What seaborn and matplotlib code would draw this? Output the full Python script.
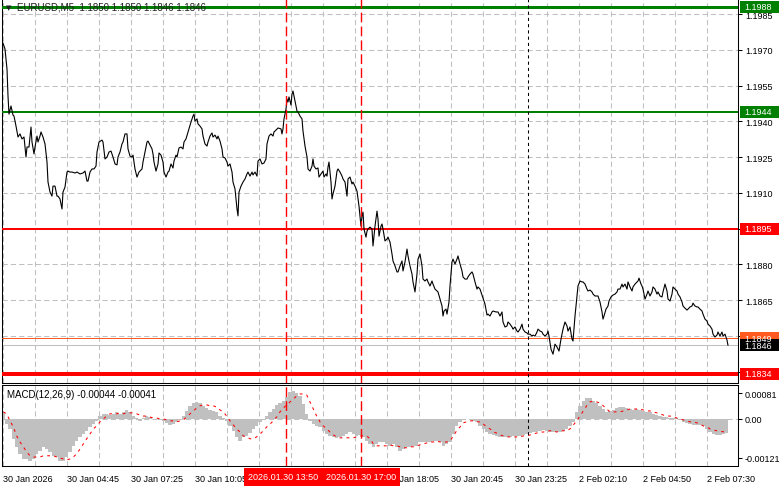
import numpy as np
import matplotlib
matplotlib.use("Agg")
import matplotlib.pyplot as plt
from matplotlib.patches import Rectangle
import seaborn as sns

# ---- values ----
tick_bars = [0, 32, 64, 96, 128, 160, 192, 224, 256, 288, 320, 352]
# the 12:45 and 15:25 labels sit under the red time boxes, so they are not shown
tick_labels = ["30 Jan 2026", "30 Jan 04:45", "30 Jan 07:25", "30 Jan 10:05",
               "", "", "30 Jan 18:05", "30 Jan 20:45",
               "30 Jan 23:25", "2 Feb 02:10", "2 Feb 04:50", "2 Feb 07:30"]
price_ticks = [1.1985, 1.1970, 1.1955, 1.1940, 1.1925, 1.1910, 1.1895,
               1.1880, 1.1865, 1.1850, 1.1835]
macd_ticks = [0.00081, 0.0, -0.00121]
macd_tick_labels = ["0.00081", "0.00", "-0.00121"]

level_prices = [1.1988, 1.1944, 1.1895, 1.1849, 1.1834]
level_colors = ["#008000", "#008000", "#ff0000", "#ff5a1f", "#ff0000"]
level_widths = [3.0, 2.0, 2.0, 1.0, 4.0]   # pixels
bid_price = 1.1846

event_bars = [141.5, 179]
event_labels = ["2026.01.30 13:50", "2026.01.30 17:00"]
marker_bar = 262.5

header = "EURUSD,M5  1.1850 1.1850 1.1846 1.1846"
macd_title = "MACD(12,26,9) -0.00044 -0.00041"

price_bar = [
    0, 1, 2, 2.5, 3, 4, 5, 5.5, 6.5, 7.5,
    8.5, 9.5, 10.5, 11.5, 12, 13, 14, 14.5, 15.5, 16,
    17, 17.5, 18.5, 19, 20, 21, 22, 22.5, 23.5, 24.5,
    25, 26, 27, 27.5, 28.5, 29.5, 30, 31, 32, 32.5,
    33.5, 34.5, 36, 37, 38.5, 40, 41, 42, 42.5, 43.5,
    44.5, 45.5, 46.5, 47, 48, 49.5, 50, 51, 52, 53,
    54, 55, 56, 57, 57.5, 58.5, 59.5, 60, 61, 62,
    62.5, 63.5, 64.5, 65, 66, 67, 68, 69.5, 70, 71,
    72, 72.5, 73.5, 74.5, 75, 75.5, 76.5, 77.5, 78, 79,
    80, 80.5, 81.5, 82.5, 83, 84, 85, 85.5, 86.5, 87,
    88, 89, 90, 90.5, 91.5, 92.5, 93, 94, 95, 95.5,
    96, 97, 97.5, 98.5, 99.5, 100, 101, 102, 102.5, 103.5,
    104.5, 105, 106, 107, 107.5, 108.5, 109.5, 110, 111, 112,
    112.5, 113.5, 114.5, 115, 116, 117, 117.5, 118, 119, 120,
    121, 122, 122.5, 123.5, 124.5, 125, 126, 127, 127.5, 128.5,
    129.5, 130.5, 131.5, 132, 133, 134, 135, 135.5, 136.5, 137.5,
    139, 139.5, 140, 140.5, 141.5, 142, 142.5, 143, 144, 144.5,
    145, 146, 147, 147.5, 148.5, 149.5, 150, 151, 152, 152.5,
    153.5, 154.5, 155, 155.5, 156.5, 157.5, 158, 159, 160, 160.5,
    161.5, 162, 162.5, 163, 164, 164.5, 165, 166, 167, 167.5,
    168.5, 169.5, 170, 171, 172, 172.5, 173.5, 174.5, 175, 176,
    177, 177.5, 178, 179, 179.5, 180, 180.5, 181.5, 182, 182.5,
    183.5, 184.5, 185, 186, 187, 187.5, 188, 189, 189.5, 190,
    191, 192, 192.5, 193.5, 194.5, 195, 196, 197, 197.5, 198.5,
    199.5, 200, 201, 202, 202.5, 203.5, 204.5, 205, 206, 207,
    207.5, 208.5, 209.5, 210, 211, 212, 212.5, 213.5, 214.5, 215,
    216, 217, 217.5, 218.5, 219.5, 220, 220.5, 221.5, 222, 223,
    223.5, 224.5, 225, 226, 227, 227.5, 228.5, 229.5, 230, 231,
    232, 232.5, 233.5, 234.5, 235, 236, 237, 237.5, 238.5, 239.5,
    240, 241, 242, 242.5, 243.5, 244.5, 245, 246.5, 247.5, 248.5,
    249.5, 250, 251, 252, 252.5, 253.5, 254.5, 255, 256, 257,
    257.5, 258.5, 259.5, 260, 261, 262, 262.5, 263.5, 264.5, 265,
    266, 267, 267.5, 268.5, 269.5, 270, 271, 272, 272.5, 273,
    274, 275, 276, 277, 278, 279, 280, 281, 282, 282.5,
    283.5, 284.5, 285, 286, 287, 287.5, 288.5, 289.5, 290, 291,
    292, 292.5, 293.5, 294.5, 295, 296, 297, 297.5, 298.5, 299.5,
    300, 300.5, 301.5, 302.5, 303, 304, 305, 306, 307, 307.5,
    308.5, 309.5, 310, 311, 312, 312.5, 313.5, 314.5, 315, 316,
    317, 317.5, 318, 319, 319.5, 320, 321, 322, 322.5, 323.5,
    324.5, 325, 326, 327, 327.5, 328.5, 329.5, 330, 331, 332,
    332.5, 333.5, 334.5, 335, 336, 337, 337.5, 338.5, 339.5, 340,
    341, 342, 342.5, 343.5, 344.5, 345, 346, 347, 347.5, 348.5,
    349.5, 350, 351, 352, 352.5, 353.5, 354.5, 355, 356, 357,
    357.5, 358.5, 359.5, 360, 361, 362, 362.5,
]

price_close = [
    1.19728, 1.19703, 1.19619, 1.19506, 1.19430, 1.19464, 1.19426, 1.19422, 1.19380, 1.19334,
    1.19347, 1.19326, 1.19334, 1.19250, 1.19292, 1.19292, 1.19376, 1.19313, 1.19263, 1.19292,
    1.19338, 1.19313, 1.19338, 1.19355, 1.19334, 1.19305, 1.19229, 1.19145, 1.19103, 1.19086,
    1.19128, 1.19128, 1.19086, 1.19086, 1.19074, 1.19032, 1.19103, 1.19124, 1.19187, 1.19191,
    1.19187, 1.19187, 1.19183, 1.19187, 1.19179, 1.19183, 1.19191, 1.19149, 1.19149, 1.19187,
    1.19200, 1.19200, 1.19212, 1.19271, 1.19313, 1.19321, 1.19313, 1.19242, 1.19250, 1.19271,
    1.19275, 1.19250, 1.19221, 1.19217, 1.19250, 1.19271, 1.19305, 1.19313, 1.19347, 1.19347,
    1.19284, 1.19254, 1.19250, 1.19258, 1.19200, 1.19166, 1.19187, 1.19200, 1.19229, 1.19271,
    1.19313, 1.19317, 1.19300, 1.19284, 1.19263, 1.19229, 1.19191, 1.19221, 1.19267, 1.19258,
    1.19229, 1.19187, 1.19166, 1.19187, 1.19191, 1.19221, 1.19204, 1.19233, 1.19258, 1.19250,
    1.19288, 1.19292, 1.19284, 1.19313, 1.19326, 1.19355, 1.19368, 1.19397, 1.19422, 1.19430,
    1.19401, 1.19410, 1.19389, 1.19380, 1.19368, 1.19338, 1.19305, 1.19296, 1.19313, 1.19338,
    1.19351, 1.19334, 1.19342, 1.19326, 1.19338, 1.19317, 1.19284, 1.19250, 1.19246, 1.19229,
    1.19212, 1.19221, 1.19187, 1.19145, 1.19116, 1.19032, 1.19003, 1.19103, 1.19128, 1.19145,
    1.19158, 1.19179, 1.19187, 1.19170, 1.19187, 1.19175, 1.19187, 1.19170, 1.19233, 1.19242,
    1.19221, 1.19225, 1.19242, 1.19305, 1.19338, 1.19347, 1.19338, 1.19355, 1.19363, 1.19372,
    1.19368, 1.19347, 1.19368, 1.19410, 1.19451, 1.19493, 1.19481, 1.19502, 1.19468, 1.19514,
    1.19527, 1.19485, 1.19443, 1.19439, 1.19422, 1.19410, 1.19359, 1.19296, 1.19250, 1.19200,
    1.19191, 1.19212, 1.19242, 1.19212, 1.19200, 1.19204, 1.19166, 1.19179, 1.19191, 1.19166,
    1.19179, 1.19170, 1.19208, 1.19229, 1.19145, 1.19074, 1.19095, 1.19128, 1.19191, 1.19200,
    1.19187, 1.19170, 1.19158, 1.19145, 1.19086, 1.19158, 1.19166, 1.19137, 1.19145, 1.19128,
    1.19107, 1.19074, 1.19044, 1.18960, 1.19003, 1.19019, 1.18948, 1.18914, 1.18939, 1.18948,
    1.18956, 1.18948, 1.18877, 1.18960, 1.19023, 1.18990, 1.18918, 1.18960, 1.18969, 1.18948,
    1.18898, 1.18906, 1.18914, 1.18893, 1.18843, 1.18814, 1.18793, 1.18768, 1.18768, 1.18793,
    1.18814, 1.18772, 1.18810, 1.18864, 1.18835, 1.18793, 1.18759, 1.18726, 1.18684, 1.18759,
    1.18822, 1.18843, 1.18793, 1.18738, 1.18730, 1.18738, 1.18726, 1.18709, 1.18730, 1.18717,
    1.18696, 1.18688, 1.18684, 1.18654, 1.18625, 1.18583, 1.18604, 1.18612, 1.18591, 1.18642,
    1.18709, 1.18810, 1.18822, 1.18801, 1.18822, 1.18835, 1.18801, 1.18772, 1.18747, 1.18738,
    1.18738, 1.18747, 1.18759, 1.18768, 1.18759, 1.18726, 1.18696, 1.18705, 1.18696, 1.18671,
    1.18658, 1.18633, 1.18587, 1.18591, 1.18583, 1.18600, 1.18604, 1.18600, 1.18600, 1.18583,
    1.18600, 1.18558, 1.18537, 1.18541, 1.18558, 1.18549, 1.18537, 1.18528, 1.18537, 1.18520,
    1.18516, 1.18528, 1.18549, 1.18528, 1.18516, 1.18512, 1.18507, 1.18507, 1.18499, 1.18503,
    1.18499, 1.18516, 1.18528, 1.18520, 1.18516, 1.18507, 1.18499, 1.18507, 1.18520, 1.18499,
    1.18444, 1.18423, 1.18465, 1.18453, 1.18436, 1.18486, 1.18528, 1.18558, 1.18541, 1.18520,
    1.18537, 1.18486, 1.18478, 1.18583, 1.18667, 1.18709, 1.18730, 1.18726, 1.18726, 1.18717,
    1.18696, 1.18688, 1.18692, 1.18684, 1.18675, 1.18667, 1.18667, 1.18667, 1.18642, 1.18600,
    1.18570, 1.18583, 1.18612, 1.18625, 1.18646, 1.18663, 1.18671, 1.18675, 1.18684, 1.18696,
    1.18696, 1.18717, 1.18705, 1.18717, 1.18696, 1.18726, 1.18705, 1.18688, 1.18705, 1.18717,
    1.18726, 1.18730, 1.18742, 1.18717, 1.18709, 1.18696, 1.18654, 1.18675, 1.18688, 1.18667,
    1.18684, 1.18705, 1.18696, 1.18675, 1.18684, 1.18667, 1.18663, 1.18684, 1.18717, 1.18688,
    1.18654, 1.18646, 1.18675, 1.18705, 1.18696, 1.18688, 1.18675, 1.18663, 1.18642, 1.18625,
    1.18616, 1.18608, 1.18612, 1.18621, 1.18625, 1.18637, 1.18625, 1.18621, 1.18621, 1.18612,
    1.18604, 1.18591, 1.18570, 1.18562, 1.18549, 1.18541, 1.18528, 1.18507, 1.18495, 1.18503,
    1.18516, 1.18499, 1.18516, 1.18499, 1.18507, 1.18482, 1.18460,
]

# MACD main (histogram) and signal, in units of 1e-5, sampled every 5/3 bars
macd_hist_e5 = [
    22, -16, -31, -62, -87, -109, -125, -125, -131, -125,
    -109, -100, -87, -94, -103, -115, -119, -131, -131, -119,
    -103, -84, -69, -56, -47, -37, -25, -16, -6, 9,
    16, 16, 12, 16, 22, 16, 22, 28, 22, 9,
    3, -6, 3, 9, 6, 0, 0, -3, -6, -12,
    -19, -16, -9, -3, 9, 25, 41, 50, 53, 50,
    41, 34, 28, 25, 22, 9, 3, -6, -22, -37,
    -56, -69, -56, -53, -44, -31, -22, -9, 0, 9,
    22, 31, 44, 50, 56, 69, 84, 87, 81, 72,
    47, 16, -6, -16, -22, -25, -37, -47, -53, -56,
    -59, -56, -53, -47, -41, -47, -53, -50, -56, -69,
    -78, -87, -78, -72, -72, -78, -84, -78, -87, -100,
    -94, -87, -87, -84, -84, -72, -72, -72, -72, -69,
    -69, -72, -84, -78, -72, -47, -22, -9, -3, 0,
    0, -6, -9, -22, -31, -41, -47, -50, -53, -56,
    -56, -56, -56, -53, -53, -53, -50, -47, -44, -41,
    -41, -37, -34, -37, -41, -41, -41, -41, -37, -31,
    -22, -9, 22, 41, 56, 66, 66, 56, 50, 41,
    31, 22, 25, 28, 34, 37, 37, 34, 31, 28,
    31, 28, 25, 22, 22, 16, 12, 9, 6, 6,
    3, 3, 3, 0, -9, -12, -16, -19, -19, -19,
    -22, -31, -41, -47, -50, -50, -47, -44,
]

macd_signal_e5 = [
    22, 16, -6, -25, -53, -72, -87, -103, -115, -119,
    -119, -119, -115, -115, -115, -115, -119, -122, -125, -128,
    -125, -119, -109, -94, -78, -62, -47, -31, -22, -9,
    0, 9, 16, 16, 16, 19, 16, 19, 19, 19,
    16, 12, 9, 9, 6, 3, 3, 0, 0, -3,
    -6, -6, -9, -6, -3, 6, 16, 25, 34, 41,
    44, 44, 41, 41, 37, 28, 22, 9, -6, -19,
    -31, -41, -53, -56, -62, -62, -56, -47, -37, -25,
    -16, -6, 6, 22, 34, 44, 53, 62, 72, 78,
    78, 75, 53, 31, 9, -9, -22, -31, -41, -50,
    -56, -59, -59, -59, -59, -59, -56, -53, -53, -53,
    -62, -78, -84, -84, -84, -84, -81, -84, -84, -87,
    -90, -90, -87, -87, -84, -81, -78, -75, -72, -72,
    -69, -72, -72, -72, -69, -53, -37, -25, -12, -9,
    -6, -6, -9, -9, -16, -25, -31, -41, -44, -50,
    -53, -56, -56, -56, -56, -56, -53, -53, -50, -47,
    -44, -41, -41, -37, -37, -37, -41, -37, -37, -37,
    -31, -19, -6, 9, 25, 41, 53, 56, 53, 50,
    41, 31, 22, 22, 22, 22, 25, 28, 31, 31,
    31, 31, 28, 25, 25, 22, 19, 16, 12, 9,
    9, 6, 3, 0, -3, -6, -9, -9, -12, -16,
    -22, -25, -31, -34, -37, -39, -40, -41,
]

# ---- figure ----
W, H = 781, 489
FS = 6.5
sns.set_style("white")
plt.rcParams["font.family"] = ["Liberation Sans", "DejaVu Sans"]
plt.rcParams["font.size"] = FS

fig = plt.figure(figsize=(W / 100, H / 100), dpi=100)
ax = fig.add_axes([2 / W, 1 - 384 / H, 736 / W, 384 / H])
mx = fig.add_axes([2 / W, 1 - 467 / H, 736 / W, 81 / H])

grid_kw = dict(color="#c0c0c0", linewidth=0.75, linestyle=(0, (5, 3)))
x_lo, x_hi = -0.5, 367.5

# main price panel
ax.set_xlim(x_lo, x_hi)
ax.set_ylim(1.18302, 1.19913)
ax.set_axisbelow(True)
ax.set_xticks(np.arange(0, 368, 16))
ax.set_xticklabels([])
ax.set_yticks(price_ticks, labels=[f"{p:.4f}" for p in price_ticks])
ax.yaxis.tick_right()
ax.tick_params(axis="x", length=0)
ax.tick_params(axis="y", direction="out", length=3, width=0.75, pad=2,
               labelsize=FS, colors="black")
ax.grid(True, **grid_kw)

for p, c, w in zip(level_prices, level_colors, level_widths):
    ax.axhline(p, color=c, linewidth=w * 0.72, zorder=3)
ax.axhline(bid_price, color="#c0c0c0", linewidth=0.75, zorder=2)

sns.lineplot(x=price_bar, y=price_close, ax=ax, color="black",
             linewidth=0.8, sort=False, estimator=None, zorder=4)

# MACD panel
macd_hist = np.array(macd_hist_e5) * 1e-5
macd_signal = np.array(macd_signal_e5) * 1e-5
macd_bar = np.arange(1, len(macd_hist) + 1) * 5 / 3 - 1.5

mx.set_xlim(x_lo, x_hi)
mx.set_ylim(-0.00147, 0.00106)
mx.set_axisbelow(True)
mx.axhline(0, zorder=0, **grid_kw)
mx.bar(macd_bar, macd_hist, width=5 / 3, color="#c0c0c0", linewidth=0, zorder=1)
sns.lineplot(x=macd_bar, y=macd_signal, ax=mx, color="#ff0000", linewidth=0.75,
             linestyle=(0, (2.7, 4)), sort=False, estimator=None, zorder=3)

mx.set_xticks(tick_bars, labels=tick_labels, ha="left")
mx.set_xticks(np.arange(16, 368, 32), minor=True)
mx.grid(True, axis="x", which="both", **grid_kw)
mx.set_yticks(macd_ticks, labels=macd_tick_labels)
mx.yaxis.tick_right()
mx.tick_params(axis="x", which="major", direction="out", length=4, width=0.75,
               pad=1.5, labelsize=FS, colors="black")
mx.tick_params(axis="x", which="minor", length=0)
mx.tick_params(axis="y", direction="out", length=3, width=0.75, pad=2,
               labelsize=FS, colors="black")
mx.set_ylabel("")
ax.set_ylabel("")

for a in (ax, mx):
    for s in a.spines.values():
        s.set_color("black")
        s.set_linewidth(0.75)
ax.spines["top"].set_visible(False)

# vertical markers across both panels
for a in (ax, mx):
    for b in event_bars:
        a.axvline(b, color="#ff0000", linewidth=1.0, linestyle=(0, (7, 3)), zorder=5)
    a.axvline(marker_bar, color="black", linewidth=0.75, linestyle=(0, (3, 3)), zorder=5)

# text labels
fig.text(6 / W, 1 - 8 / H, "\u25bc", fontsize=5, color="#202020", va="center",
         family=["DejaVu Sans"])
fig.text(17 / W, 1 - 8 / H, header, fontsize=FS + 0.5, color="#202020", va="center")
fig.text(7 / W, 1 - 395 / H, macd_title, fontsize=FS + 0.5, color="black", va="center")


def price_box(value, text, face, fg):
    y = ax.transData.transform((0, value))[1]
    fig.add_artist(Rectangle((740 / W, (y - 6) / H), 39 / W, 12 / H,
                             transform=fig.transFigure, facecolor=face,
                             edgecolor="none", zorder=6))
    fig.text(744 / W, y / H, text, color=fg, fontsize=FS, va="center",
             ha="left", zorder=7)


for p, c in zip(level_prices, level_colors):
    if p == 1.1834:
        continue
    price_box(p, f"{p:.4f}", c, "white")
price_box(bid_price, f"{bid_price:.4f}", "black", "white")
price_box(1.1834, "1.1834", "#ff0000", "white")

# red time boxes on the x axis (a box is pushed left when it would overlap the next)
box_w = 78
centers = [mx.transData.transform((b, 0))[0] for b in event_bars]
lefts = [c - box_w / 2 for c in centers]
for i in range(len(lefts) - 2, -1, -1):
    lefts[i] = min(lefts[i], lefts[i + 1] - box_w)
for left, lab in zip(lefts, event_labels):
    fig.add_artist(Rectangle((left / W, 2 / H), box_w / W, 18 / H,
                             transform=fig.transFigure, facecolor="#ff0000",
                             edgecolor="none", zorder=6))
    fig.text((left + box_w / 2) / W, 11 / H, lab, color="white", fontsize=FS,
             va="center", ha="center", zorder=7)

fig.savefig("out.png", dpi=100, facecolor="white")
